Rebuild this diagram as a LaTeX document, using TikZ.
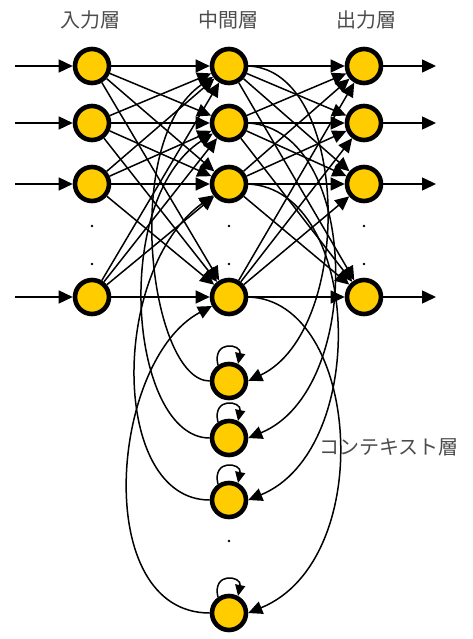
\documentclass[tikz,border=0pt]{standalone}
\usepackage{fontspec}
\newfontfamily\jp{Noto Sans CJK JP}
\usetikzlibrary{arrows.meta}
\definecolor{nyellow}{HTML}{FFCC00}
\begin{document}
\begin{tikzpicture}[x=1pt,y=-1pt,
  neuron/.style={circle, draw=black, line width=4.6pt, fill=nyellow, minimum size=34pt, inner sep=0pt},
  conn/.style={line width=1.5pt, -{Triangle[length=14pt,width=13pt]}},
  loopc/.style={line width=1.5pt, -{Triangle[length=11pt,width=10pt]}},
  lab/.style={font=\jp\fontsize{20}{20}\selectfont, text=black!70}]
\useasboundingbox (0,0) rectangle (472,639);
% labels
\node[lab] (t1) at (90,20) {入力層};
\node[lab] (t2) at (228,20) {中間層};
\node[lab] (t3) at (366,20) {出力層};
\node[lab] (t4) at (389,447) {コンテキスト層};
% nodes
\foreach \n/\y in {1/66,2/123,3/184,4/297}{
  \node[neuron] (i\n) at (92,\y) {};
  \node[neuron] (h\n) at (229,\y) {};
  \node[neuron] (o\n) at (364,\y) {};
  \coordinate (a\n) at (15,\y);
  \coordinate (b\n) at (436,\y);
}
\foreach \n/\y in {1/381,2/438,3/500,4/613}{
  \node[neuron] (c\n) at (229,\y) {};
}
% dots
\foreach \x in {92,229,364}{
  \fill (\x,226) circle (1.4pt);
  \fill (\x,264) circle (1.4pt);
}
\fill (229,541) circle (1.4pt);
% input / output arrows
\foreach \n in {1,2,3,4}{
  \draw[conn] (a\n) -- (i\n);
  \draw[conn] (o\n) -- (b\n);
}
% full connections
\foreach \p in {1,2,3,4}{
  \foreach \q in {1,2,3,4}{
    \draw[conn] (i\p) -- (h\q);
    \draw[conn] (h\p) -- (o\q);
  }
}
% context -> hidden (left curves)
\draw[conn] (c1.west) .. controls (150,381) and (120,140) .. (h1);
\draw[conn] (c2.west) .. controls (130,438) and (110,200) .. (h2);
\draw[conn] (c3.west) .. controls (110,500) and (110,270) .. (h3);
\draw[conn] (c4.west) .. controls (90,613) and (110,360) .. (h4);
% hidden -> context (right curves)
\draw[conn] (h1.east) .. controls (350,70) and (355,330) .. (c1.east);
\draw[conn] (h2.east) .. controls (360,130) and (365,390) .. (c2.east);
\draw[conn] (h3.east) .. controls (362,190) and (370,450) .. (c3.east);
\draw[conn] (h4.east) .. controls (360,300) and (378,560) .. (c4.east);
% self loops
\foreach \n in {1,2,3,4}{
  \draw[loopc] (c\n.125) .. controls +(-6,-26) and +(4,-20) .. (c\n.62);
}
\end{tikzpicture}
\end{document}
